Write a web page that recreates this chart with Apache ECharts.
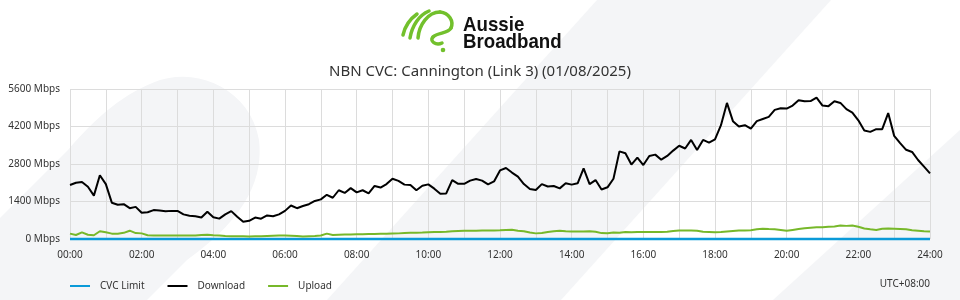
<!DOCTYPE html>
<html>
<head>
<meta charset="utf-8">
<script src="https://cdn.jsdelivr.net/npm/echarts@6/dist/echarts.min.js"></script>
<style>html,body{margin:0;padding:0;background:#fff}#c{width:960px;height:300px}</style>
</head>
<body>
<div id="c"></div>
<script>
// ---- data (10-minute samples, 00:00 .. 24:00) ----
const title = 'NBN CVC: Cannington (Link 3) (01/08/2025)';
const seriesNames = ['CVC Limit', 'Download', 'Upload'];
const xTickLabels = ['00:00','02:00','04:00','06:00','08:00','10:00','12:00','14:00','16:00','18:00','20:00','22:00','24:00'];
const yTickValues = [0, 1400, 2800, 4200, 5600];
const stepMinutes = 10;
const cvcLimitTimes = [0, 24];
const cvcLimit = [0, 0];
const download = [
  2016,2100,2130,1950,1620,2380,
  2050,1356,1280,1300,1150,1200,
  980,1000,1080,1060,1040,1050,
  1050,920,870,850,800,1020,
  810,760,920,1040,830,640,
  680,800,760,880,850,920,
  1050,1250,1150,1230,1300,1420,
  1480,1650,1540,1820,1720,1900,
  1740,1820,1700,1980,1920,2050,
  2250,2170,2030,2020,1820,1990,
  2040,1880,1690,1700,2200,2060,
  2060,2180,2240,2180,2040,2150,
  2560,2650,2480,2330,2050,1870,
  1830,2050,1960,1980,1890,2080,
  2030,2080,2640,2050,2200,1850,
  1930,2250,3270,3200,2780,3040,
  2760,3100,3150,2960,3100,3300,
  3480,3380,3700,3320,3700,3600,
  3720,4250,5080,4400,4200,4250,
  4120,4400,4480,4560,4820,4880,
  4870,4980,5180,5140,5150,5280,
  4980,4960,5140,5080,4850,4720,
  4430,4050,4000,4100,4100,4700,
  3850,3580,3330,3250,2950,2700,
  2450
];
const upload = [
  200,150,250,160,140,290,
  250,200,200,230,310,220,
  210,140,130,130,130,130,
  130,130,130,130,150,160,
  140,130,110,100,100,100,
  90,100,100,110,120,130,
  130,120,110,90,100,110,
  130,200,150,160,170,170,
  175,180,185,190,200,200,
  205,210,220,230,235,240,
  250,260,265,270,285,300,
  310,310,310,315,315,320,
  325,340,345,310,290,240,
  210,220,260,290,310,290,
  280,280,280,290,270,220,
  215,240,230,260,250,260,
  260,260,260,260,270,300,
  320,320,320,310,270,260,
  250,260,280,300,320,320,
  330,360,385,370,360,340,
  310,340,370,400,420,440,
  440,460,470,500,490,500,
  460,390,360,340,380,390,
  380,370,360,330,310,290,
  280
];

const toPairs = arr => arr.map((v, i) => [i * stepMinutes / 60, v]);
const FONT = '"Noto Sans", "DejaVu Sans", sans-serif';
const GRAY = '#f4f5f7';
const GREEN_LOGO = '#72c02c';

// decorative helpers (background shapes only)
function bez(p0, p1, p2, p3, n) {
  const pts = [];
  for (let k = 1; k <= n; k++) {
    const t = k / n, u = 1 - t;
    pts.push([
      u*u*u*p0[0] + 3*u*u*t*p1[0] + 3*u*t*t*p2[0] + t*t*t*p3[0],
      u*u*u*p0[1] + 3*u*u*t*p1[1] + 3*u*t*t*p2[1] + t*t*t*p3[1]
    ]);
  }
  return pts;
}
const band1 = [[-82, 300], [68, 150]]
  .concat(bez([68,150],[95,118],[125,92],[160,80], 16))
  .concat(bez([160,80],[200,68],[250,90],[259,140], 16))
  .concat(bez([259,140],[263,175],[250,215],[187,260], 16))
  .concat([[147, 300]]);

function stroke(p0, p1, p2, p3) {
  return {type: 'bezierCurve', z: 10, silent: true,
    shape: {x1: p0[0], y1: p0[1], cpx1: p1[0], cpy1: p1[1], cpx2: p2[0], cpy2: p2[1], x2: p3[0], y2: p3[1]},
    style: {fill: null, stroke: GREEN_LOGO, lineWidth: 3.5, lineCap: 'round'}};
}
const LOGO_FONT = 'bold 21px "Liberation Sans", Arial, sans-serif';

const chart = echarts.init(document.getElementById('c'), null, {renderer: 'canvas'});
chart.setOption({
  animation: false,
  backgroundColor: '#ffffff',
  textStyle: {fontFamily: FONT},
  title: {
    text: title, left: 'center', top: 59,
    textStyle: {fontSize: 15, fontWeight: 'normal', color: '#333', fontFamily: FONT}
  },
  grid: {left: 70, right: 30, top: 89, bottom: 61, containLabel: false},
  legend: {
    left: 70, top: 281, padding: 0, itemWidth: 20, itemHeight: 2, itemGap: 23, icon: 'rect',
    textStyle: {fontSize: 10, color: '#333', padding: [0, 0, 0, 5], fontFamily: FONT},
    data: seriesNames
  },
  xAxis: {
    type: 'value', min: 0, max: 24, interval: 1,
    axisLine: {show: false}, axisTick: {show: false},
    splitLine: {show: true, lineStyle: {color: '#dcdcdc', width: 1}},
    axisLabel: {
      fontSize: 10, color: '#333', margin: 11, fontFamily: FONT,
      formatter: v => (v % 2 === 0 ? xTickLabels[v / 2] : '')
    }
  },
  yAxis: {
    type: 'value', min: yTickValues[0], max: yTickValues[yTickValues.length - 1], interval: 1400,
    axisLine: {show: false}, axisTick: {show: false},
    splitLine: {show: true, lineStyle: {color: '#dcdcdc', width: 1}},
    axisLabel: {fontSize: 10, color: '#333', margin: 10, fontFamily: FONT, formatter: v => v + ' Mbps'}
  },
  series: [
    {name: seriesNames[0], type: 'line', showSymbol: false, symbol: 'none', clip: false,
     color: '#0a9ad8', lineStyle: {width: 2.5, color: '#0a9ad8'},
     data: cvcLimitTimes.map((t, i) => [t, cvcLimit[i]]), z: 3},
    {name: seriesNames[1], type: 'line', showSymbol: false, symbol: 'none',
     color: '#000000', lineStyle: {width: 2, color: '#000000'},
     data: toPairs(download), z: 4},
    {name: seriesNames[2], type: 'line', showSymbol: false, symbol: 'none',
     color: '#77b82a', lineStyle: {width: 2, color: '#77b82a'},
     data: toPairs(upload), z: 4}
  ],
  graphic: [
    {type: 'polygon', z: -1, silent: true, shape: {points: band1}, style: {fill: GRAY}},
    {type: 'polygon', z: -1, silent: true, shape: {points: [[597,0],[831,0],[561,300],[327,300]]}, style: {fill: GRAY}},
    {type: 'polygon', z: -1, silent: true, shape: {points: [[960,130],[960,300],[773,300]]}, style: {fill: GRAY}},
    stroke([403,35],[405,26],[410,19],[417,14]),
    stroke([410,38],[412,26],[419,15],[429,11]),
    stroke([418,38],[419,25],[428,12],[440,12]),
    stroke([440,12],[449,13],[454,21],[451,28]),
    stroke([451,28],[448,34],[438,32],[433,37]),
    stroke([433,37],[429,41],[436,46],[442,43]),
    {type: 'circle', z: 10, silent: true, shape: {cx: 443, cy: 50, r: 2.3}, style: {fill: GREEN_LOGO}},
    {type: 'text', z: 10, silent: true, x: 463, y: 25.5, scaleX: 0.89,
     style: {text: 'Aussie', font: LOGO_FONT, fill: '#111', align: 'left', verticalAlign: 'middle'}},
    {type: 'text', z: 10, silent: true, x: 463, y: 42, scaleX: 0.89,
     style: {text: 'Broadband', font: LOGO_FONT, fill: '#111', align: 'left', verticalAlign: 'middle'}},
    {type: 'text', z: 10, silent: true, x: 930, y: 284,
     style: {text: 'UTC+08:00', font: '10px ' + FONT, fill: '#333', align: 'right', verticalAlign: 'middle'}}
  ]
});
</script>
</body>
</html>
